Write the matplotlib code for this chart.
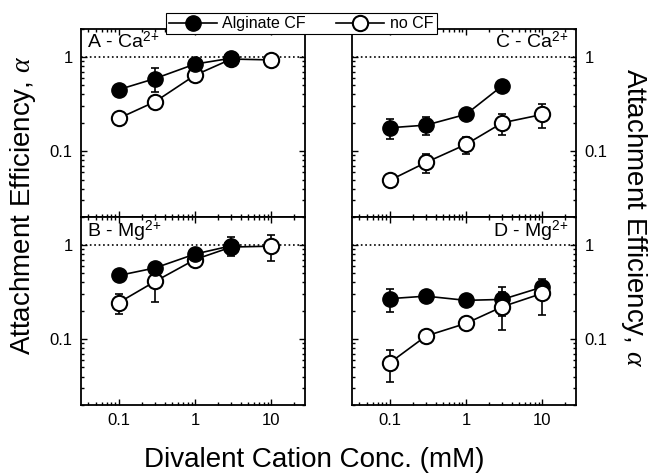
import matplotlib
matplotlib.use("Agg")
import matplotlib.pyplot as plt
from matplotlib.lines import Line2D
from matplotlib.ticker import FixedLocator, NullFormatter, FuncFormatter

plt.rcParams['font.family'] = ['Liberation Sans', 'DejaVu Sans']
plt.rcParams['mathtext.fontset'] = 'custom'
plt.rcParams['mathtext.rm'] = 'Liberation Sans'
plt.rcParams['mathtext.it'] = 'Liberation Serif:italic'

conc = [0.1, 0.3, 1, 3, 10]

# A - Ca, B - Mg (left), C - Ca, D - Mg (right)
cf_a = [0.45, 0.59, 0.84, 0.97]
cf_a_err = [0.04, 0.17, 0.08, 0.05]
nocf_a = [0.223, 0.335, 0.64, 0.95, 0.93]
nocf_a_err = [0.02, 0.03, 0.06, 0.05, 0.05]

cf_b = [0.474, 0.57, 0.80, 0.98]
cf_b_err = [0.04, 0.06, 0.06, 0.22]
nocf_b = [0.244, 0.41, 0.70, 0.95, 0.97]
nocf_b_err = [0.06, 0.16, 0.04, 0.1, 0.3]

cf_c = [0.177, 0.189, 0.246, 0.495]
cf_c_err = [0.044, 0.04, 0.02, 0.03]
nocf_c = [0.049, 0.076, 0.118, 0.20, 0.245]
nocf_c_err = [0.003, 0.017, 0.025, 0.05, 0.07]

cf_d = [0.269, 0.286, 0.258, 0.264, 0.357]
cf_d_err = [0.075, 0.02, 0.02, 0.09, 0.03]
nocf_d = [0.056, 0.108, 0.147, 0.221, 0.306]
nocf_d_err = [0.021, 0.008, 0.01, 0.095, 0.127]

labels = ["A - Ca$^{2{+}}$", "B - Mg$^{2{+}}$", "C - Ca$^{2{+}}$", "D - Mg$^{2{+}}$"]

fig = plt.figure(figsize=(6.5, 4.74), dpi=100)

lx, rx, w = 0.1246, 0.5415, 0.3452
ty, by, h = 0.5422, 0.1456, 0.3975
panels = [
    (fig.add_axes([lx, ty, w, h]), cf_a, cf_a_err, nocf_a, nocf_a_err, False),
    (fig.add_axes([lx, by, w, h]), cf_b, cf_b_err, nocf_b, nocf_b_err, False),
    (fig.add_axes([rx, ty, w, h]), cf_c, cf_c_err, nocf_c, nocf_c_err, False),
    (fig.add_axes([rx, by, w, h]), cf_d, cf_d_err, nocf_d, nocf_d_err, True),
]

ms = 11
fmt = FuncFormatter(lambda v, p: "%g" % v)

for i, (ax, cf, cf_err, nocf, nocf_err, open_top) in enumerate(panels):
    zf, zo = (3, 4) if open_top else (4, 3)
    ax.errorbar(conc[:len(cf)], cf, yerr=cf_err, fmt='none', ecolor='k',
                elinewidth=1.2, capsize=3, capthick=1.2, zorder=zf - 0.5)
    ax.plot(conc[:len(cf)], cf, '-o', color='k', mfc='k', mec='k', ms=ms,
            lw=1.2, zorder=zf)
    ax.errorbar(conc, nocf, yerr=nocf_err, fmt='none', ecolor='k',
                elinewidth=1.2, capsize=3, capthick=1.2, zorder=zo - 0.5)
    ax.plot(conc, nocf, '-o', color='k', mfc='white', mec='k', mew=1.5,
            ms=ms, lw=1.2, zorder=zo)
    ax.axhline(1, color='k', ls=':', lw=1.2, zorder=1)

    ax.set_xscale('log')
    ax.set_yscale('log')
    ax.set_xlim(0.032, 28)
    ax.set_ylim(0.02, 2)

    ax.xaxis.set_major_locator(FixedLocator([0.1, 1, 10]))
    ax.xaxis.set_minor_locator(FixedLocator(
        [k * 10 ** e for e in (-2, -1, 0, 1) for k in range(2, 10)]))
    ax.yaxis.set_major_locator(FixedLocator([0.1, 1]))
    ax.yaxis.set_minor_locator(FixedLocator(
        [k * 10 ** e for e in (-2, -1, 0) for k in range(2, 10)]))
    ax.xaxis.set_major_formatter(fmt)
    ax.yaxis.set_major_formatter(fmt)
    ax.xaxis.set_minor_formatter(NullFormatter())
    ax.yaxis.set_minor_formatter(NullFormatter())

    right = i >= 2
    bottom = i % 2 == 1
    ax.tick_params(which='both', direction='in', top=True, right=True,
                   labelsize=12, width=1.0,
                   labelbottom=bottom, labelleft=not right, labelright=right)
    ax.tick_params(which='major', length=4.5, pad=6)
    ax.tick_params(which='minor', length=2.5)
    for s in ax.spines.values():
        s.set_linewidth(1.3)

    if right:
        ax.text(0.965, 0.99, labels[i], transform=ax.transAxes,
                ha='right', va='top', fontsize=14)
    else:
        ax.text(0.025, 0.99, labels[i], transform=ax.transAxes,
                ha='left', va='top', fontsize=14)

handles = [
    Line2D([], [], color='k', marker='o', mfc='k', mec='k', ms=ms, lw=1.2),
    Line2D([], [], color='k', marker='o', mfc='white', mec='k', mew=1.5,
           ms=ms, lw=1.2),
]
leg = fig.legend(handles, ["Alginate CF", "no CF"], ncol=2,
                 loc='upper left', bbox_to_anchor=(0.255, 0.9726),
                 fontsize=11.5, frameon=True, fancybox=False,
                 edgecolor='k', framealpha=1, borderpad=0.2,
                 handlelength=3.0, handletextpad=0.35, columnspacing=1.9,
                 borderaxespad=0)
leg.get_frame().set_linewidth(0.8)

fig.text(0.035, 0.567, "Attachment Efficiency, $\\alpha$", rotation=90,
         ha='center', va='center', fontsize=20)
fig.text(0.976, 0.54, "Attachment Efficiency, $\\alpha$", rotation=270,
         ha='center', va='center', fontsize=20)
fig.text(0.483, 0.015, "Divalent Cation Conc. (mM)", ha='center',
         va='baseline', fontsize=20)

fig.savefig("out.png", dpi=100)
